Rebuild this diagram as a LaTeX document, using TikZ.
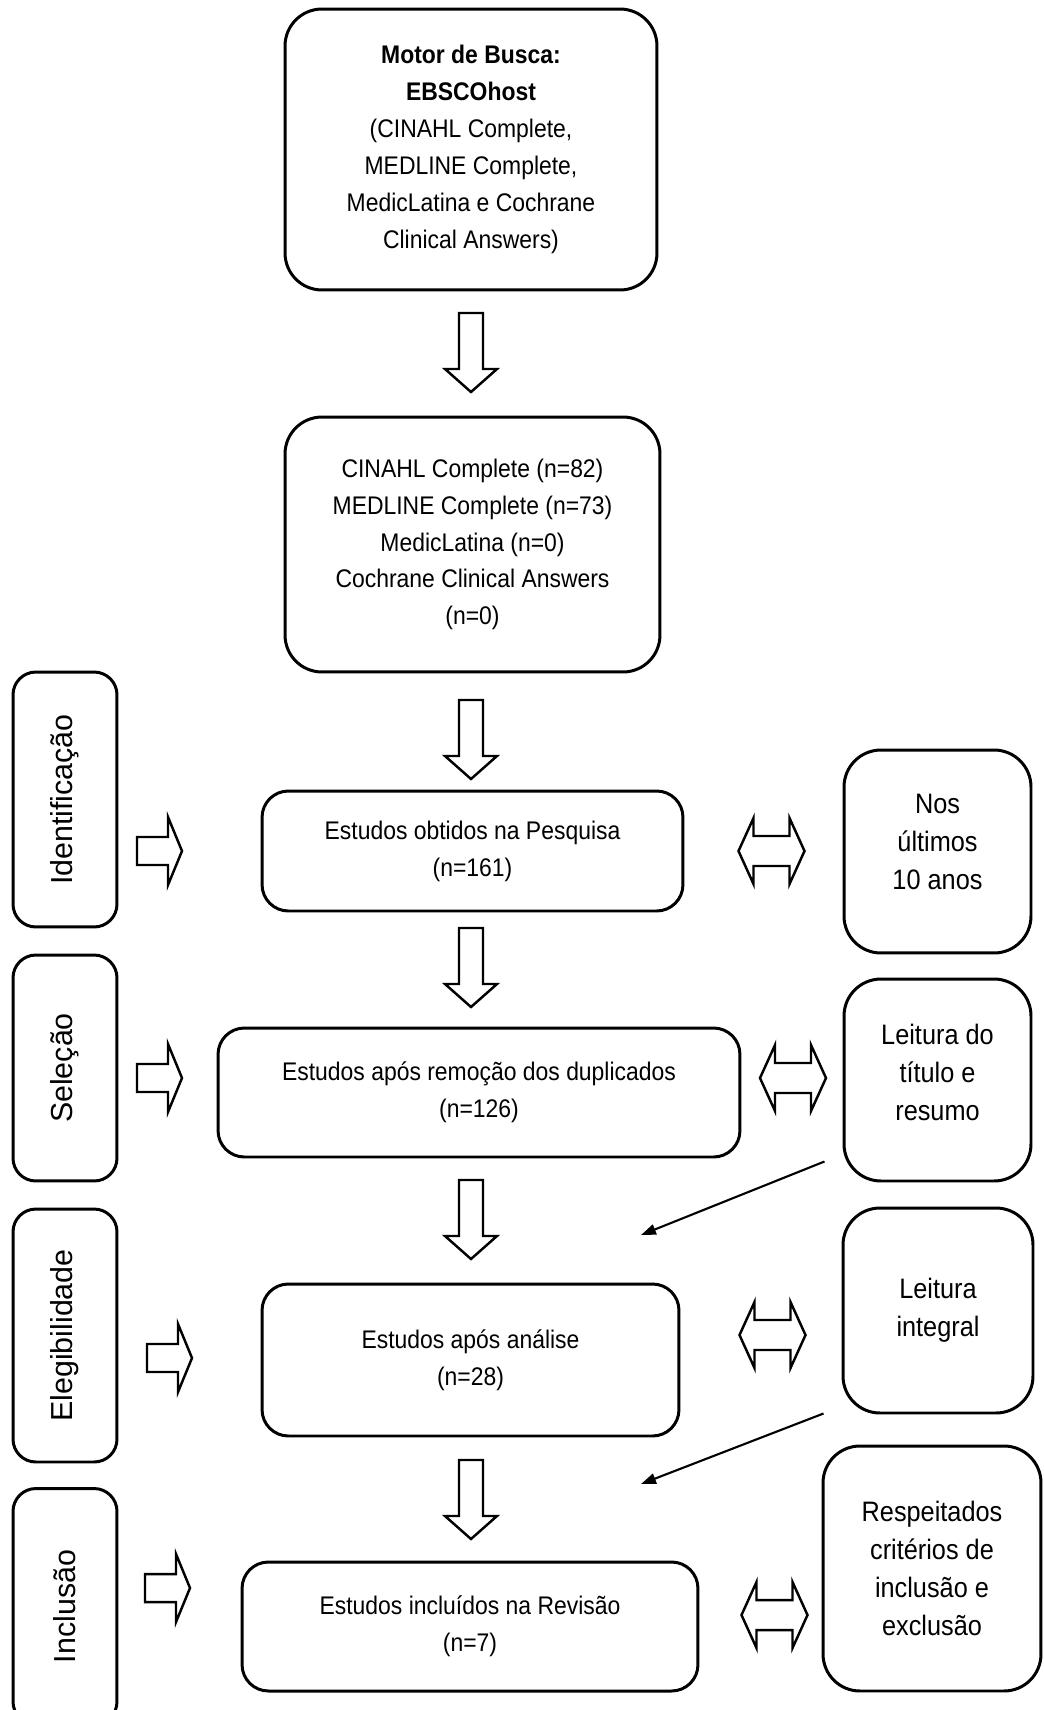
\documentclass[tikz,border=0pt]{standalone}
\usepackage{fontspec}
\usepackage{graphicx}
\setmainfont{Liberation Sans}[FakeStretch=0.9]
\newfontfamily\widefont{Liberation Sans}
\usetikzlibrary{arrows.meta,calc}
\begin{document}
\begin{tikzpicture}[x=0.02cm,y=-0.02cm,
  mainbox/.style={draw, line width=1.7pt, rounded corners=15pt, align=center, inner sep=0pt,
    font=\fontsize{14.5}{21}\selectfont},
  topbox/.style={mainbox, rounded corners=21pt},
  sidebox/.style={draw, line width=1.7pt, rounded corners=13pt, inner sep=0pt,
    minimum width=2.08cm, font=\widefont\fontsize{17.3}{20}\selectfont},
  notebox/.style={draw, line width=1.7pt, rounded corners=21pt, align=center, inner sep=0pt,
    font=\fontsize{16}{21.6}\selectfont},
  notetext/.style={font=\fontsize{16}{21.6}\selectfont, align=center},
  blk/.style={draw, line width=1.4pt, line join=miter, fill=white},
  thinarrow/.style={line width=1.2pt, -{Triangle[length=8.5pt,width=6pt]}},
  downblk/.pic={\path[blk] (-12,0) -- (12,0) -- (12,56) -- (26,56) -- (0,79) -- (-26,56) -- (-12,56) -- cycle;},
  rightblk/.pic={\path[blk] (0,-14) -- (31,-14) -- (31,-34) -- (45,0) -- (31,34) -- (31,14) -- (0,14) -- cycle;},
  dblblk/.pic={\path[blk] (-33,0) -- (-18,-33) -- (-18,-15) -- (18,-15) -- (18,-33) -- (33,0) -- (18,33) -- (18,15) -- (-18,15) -- (-18,33) -- cycle;}
]
\useasboundingbox (0,0) rectangle (1044,1710);
\clip (0,0) rectangle (1044,1710);

% main column
\node[topbox, minimum width=7.44cm, minimum height=5.62cm] (src) at (471,149.5)
  {\textbf{Motor de Busca:}\\\textbf{EBSCOhost}\\(CINAHL Complete,\\MEDLINE Complete,\\MedicLatina e Cochrane\\Clinical Answers)};
\node[topbox, minimum width=7.5cm, minimum height=5.1cm] (db) at (472.5,544.5)
  {CINAHL Complete (n=82)\\MEDLINE Complete (n=73)\\MedicLatina (n=0)\\Cochrane Clinical Answers\\(n=0)};
\node[mainbox, minimum width=8.42cm, minimum height=2.4cm] (obt) at (472.5,851)
  {Estudos obtidos na Pesquisa\\(n=161)};
\node[mainbox, minimum width=10.44cm, minimum height=2.58cm] (dup) at (479,1092.5)
  {Estudos após remoção dos duplicados\\(n=126)};
\node[mainbox, minimum width=8.34cm, minimum height=3.04cm] (ana) at (470.5,1360)
  {Estudos após análise\\(n=28)};
\node[mainbox, minimum width=9.12cm, minimum height=2.58cm] (inc) at (470,1626.5)
  {Estudos incluídos na Revisão\\(n=7)};

% phase labels
\node[sidebox, minimum height=5.1cm] (p1) at (65,799.5) {\rotatebox{90}{Identificação}};
\node[sidebox, minimum height=4.52cm] (p2) at (65,1068) {\rotatebox{90}{Seleção}};
\node[sidebox, minimum height=5.06cm] (p3) at (65,1335.5) {\rotatebox{90}{Elegibilidade}};
\node[sidebox, minimum height=4.72cm] (p4) at (65,1606.5) {\rotatebox{90}{Inclusão}};

% right notes
\node[notebox, minimum width=3.74cm, minimum height=4.06cm] (n1) at (937.5,851.5) {};
\node[notetext] (t1) at (937.5,842) {Nos\\últimos\\10 anos};
\node[notebox, minimum width=3.74cm, minimum height=4.04cm] (n2) at (937.5,1080) {};
\node[notetext] (t2) at (937.5,1072) {Leitura do\\título e\\resumo};
\node[notebox, minimum width=3.8cm, minimum height=4.1cm] (n3) at (938,1310.5)
  {Leitura\\integral};
\node[notebox, minimum width=4.36cm, minimum height=4.9cm] (n4) at (932,1568.5)
  {Respeitados\\critérios de\\inclusão e\\exclusão};

% block arrows down
\pic at (471,313) {downblk};
\pic at (471,700) {downblk};
\pic at (471,928) {downblk};
\pic at (471,1180) {downblk};
\pic at (471,1460) {downblk};

% block arrows right
\pic at (137,851) {rightblk};
\pic at (137,1078) {rightblk};
\pic at (147,1358) {rightblk};
\pic at (145,1588) {rightblk};

% double arrows
\pic at (771.5,851) {dblblk};
\pic at (793,1078) {dblblk};
\pic at (772.5,1335) {dblblk};
\pic at (774.5,1615) {dblblk};

% diagonal arrows
\coordinate (e1) at (641,1235);
\coordinate (e2) at (641,1484);
\draw[thinarrow] ($(n2.south west)+(-18,-21)$) -- (e1);
\draw[thinarrow] ($(n3.south west)+(-18,-1)$) -- (e2);
\end{tikzpicture}
\end{document}
